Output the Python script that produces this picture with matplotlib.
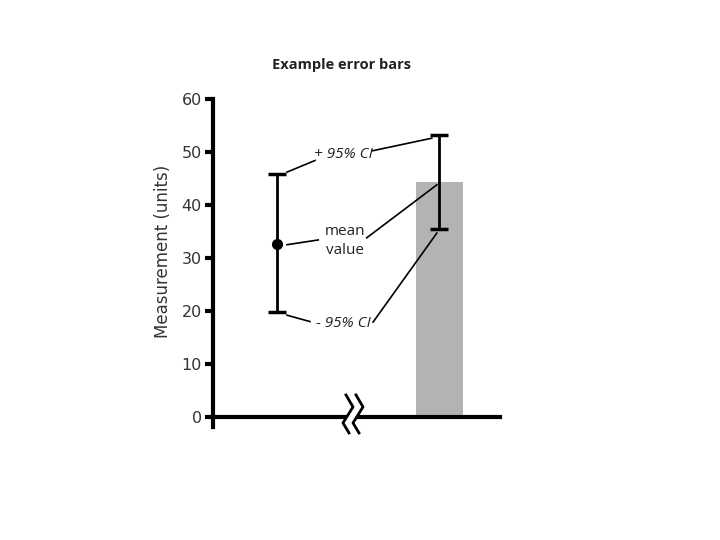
import numpy as np
import matplotlib.pyplot as plt
from matplotlib.patches import Polygon

# data
point_x = 1.0
point_mean = 32.6
point_lo = 19.8
point_hi = 45.9

bar_x = 3.55
bar_mean = 44.4
bar_lo = 35.4
bar_hi = 53.2

yticks = [0, 10, 20, 30, 40, 50, 60]

# annotation lines (data coords)
plus_lines = [((1.16, 46.2), (1.60, 48.4)), ((2.49, 50.2), (3.43, 52.6))]
mean_lines = [((1.16, 32.5), (1.65, 33.4)), ((2.41, 33.8), (3.51, 43.8))]
minus_lines = [((1.16, 19.2), (1.52, 18.0)), ((2.51, 17.9), (3.51, 34.7))]

# break zigzag
zig_x = [2.085, 2.195, 2.038, 2.132]
zig_y = [4.15, 1.89, -1.13, -3.02]
zig_dx = 0.157

txt = '#222222'
fig = plt.figure(figsize=(7.2, 5.4), dpi=100)
ax = fig.add_axes([213 / 720, (540 - 427) / 540, 287 / 720, 328 / 540])
ax.set_xlim(0, 4.5)
ax.set_ylim(-1.9, 60)

ax.bar(bar_x, bar_mean, width=0.74, color='#b3b3b3', zorder=1)
ax.errorbar(bar_x, bar_mean, yerr=[[bar_mean - bar_lo], [bar_hi - bar_mean]],
            fmt='none', ecolor='black', elinewidth=2, capsize=6.5, capthick=2.5, zorder=3)
ax.errorbar(point_x, point_mean, yerr=[[point_mean - point_lo], [point_hi - point_mean]],
            fmt='o', color='black', markersize=7, elinewidth=2, capsize=6.5, capthick=2.5, zorder=3)

for lines in (plus_lines, mean_lines, minus_lines):
    for (x0, y0), (x1, y1) in lines:
        ax.plot([x0, x1], [y0, y1], color='black', lw=1.2, zorder=2)

ann_font = ['Open Sans', 'DejaVu Sans']
ax.text(2.05, 49.6, '+ 95% CI', style='italic', fontsize=11, family=ann_font,
        color=txt, ha='center', va='center')
ax.text(2.07, 33.2, 'mean\nvalue', fontsize=11, family=ann_font, color=txt,
        ha='center', va='center', multialignment='center', linespacing=1.3)
ax.text(2.05, 17.6, '- 95% CI', style='italic', fontsize=11, family=ann_font,
        color=txt, ha='center', va='center')

ax.spines['top'].set_visible(False)
ax.spines['right'].set_visible(False)
ax.spines['bottom'].set_position(('data', 0))
ax.spines['left'].set_linewidth(3)
ax.spines['bottom'].set_linewidth(3)
ax.set_xticks([])
ax.set_yticks(yticks)
ax.tick_params(axis='y', length=6, width=3, labelsize=11.5, labelcolor='#333333', pad=2)
ax.set_ylabel('Measurement (units)', fontsize=12, color='#333333')
ax.yaxis.set_label_coords(-0.143, 0.534)

# axis break
zx2 = [v + zig_dx for v in zig_x]
poly = Polygon(list(zip(zig_x, zig_y)) + list(zip(zx2, zig_y))[::-1], closed=True,
               facecolor='white', edgecolor='none', clip_on=False, zorder=4)
ax.add_patch(poly)
ax.plot(zig_x, zig_y, color='black', lw=2, clip_on=False, zorder=5)
ax.plot(zx2, zig_y, color='black', lw=2, clip_on=False, zorder=5)

fig.text(342 / 720, 1 - 65 / 540, 'Example error bars', fontsize=10.5, fontweight='bold',
         family=ann_font, color=txt, ha='center', va='center')

fig.savefig('out.png', dpi=100)
